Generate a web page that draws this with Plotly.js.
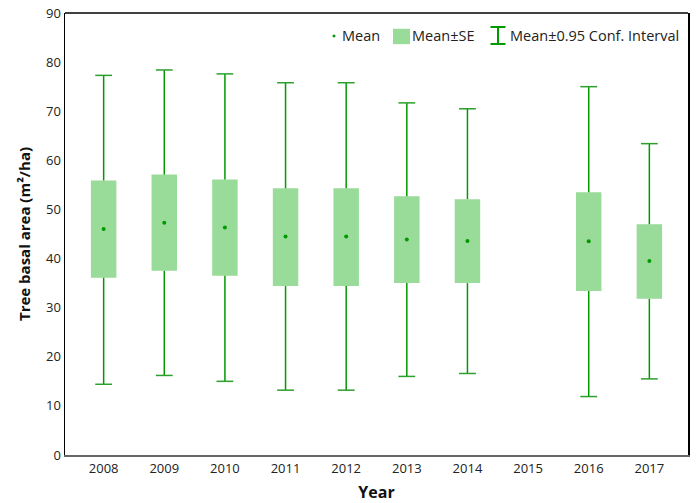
<!DOCTYPE html>
<html>
<head>
<meta charset="utf-8">
<script src="https://cdn.plot.ly/plotly-3.0.1.min.js"></script>
<style>html,body{margin:0;padding:0;background:#fff;}#chart{width:696px;height:503px;}</style>
</head>
<body>
<div id="chart"></div>
<script>
// Data
var years   = ['2008','2009','2010','2011','2012','2013','2014','2015','2016','2017'];
var means   = [46.0, 47.3, 46.3, 44.5, 44.5, 43.9, 43.6, null, 43.5, 39.5];
var seLow   = [36.1, 37.5, 36.5, 34.4, 34.4, 35.0, 35.0, null, 33.4, 31.8];
var seHigh  = [55.9, 57.1, 56.1, 54.3, 54.3, 52.7, 52.1, null, 53.5, 47.0];
var ciLow   = [14.4, 16.2, 15.0, 13.2, 13.2, 16.0, 16.6, null, 11.9, 15.5];
var ciHigh  = [77.3, 78.4, 77.6, 75.8, 75.8, 71.7, 70.5, null, 75.0, 63.4];
var legendLabels = ['Mean', 'Mean±SE', 'Mean±0.95 Conf. Interval'];

var boxColor = '#99db99';
var lineColor = '#009900';
var fontFam = '"Open Sans", Lato, sans-serif';

// box heights from SE bounds
var boxHeights = seHigh.map(function(h, i){ return (h === null || seLow[i] === null) ? null : h - seLow[i]; });

// whisker segments
var wx = [], wy = [];
var cx = [], cy = [];
years.forEach(function(yr, i){
  if (means[i] === null) return;
  wx.push(yr, yr, null, yr, yr, null);
  wy.push(ciHigh[i], seHigh[i], null, seLow[i], ciLow[i], null);
  cx.push(yr, yr);
  cy.push(ciHigh[i], ciLow[i]);
});

var traces = [
  {
    type: 'bar', x: years, y: boxHeights, base: seLow,
    width: 0.42, marker: {color: boxColor, line: {width: 0}},
    showlegend: false, hoverinfo: 'skip'
  },
  {
    type: 'scatter', mode: 'lines', x: wx, y: wy,
    line: {color: lineColor, width: 1.5}, connectgaps: false,
    showlegend: false, hoverinfo: 'skip'
  },
  {
    type: 'scatter', mode: 'markers', x: cx, y: cy,
    marker: {symbol: 'line-ew-open', size: 12, line: {color: lineColor, width: 1.5}},
    showlegend: false, hoverinfo: 'skip'
  },
  {
    type: 'scatter', mode: 'markers', x: years, y: means,
    marker: {symbol: 'circle', size: 4, color: lineColor},
    showlegend: false
  }
];

// custom legend (paper coords)
var L = 65, R = 688, T = 12.5, B = 455;
function px(x){ return (x - L) / (R - L); }
function py(y){ return (B - y) / (B - T); }

var shapes = [
  {type: 'line', xref: 'paper', yref: 'paper', x0: 0, x1: 1, y0: 1, y1: 1, line: {color: '#000', width: 1.5}},
  {type: 'circle', xref: 'paper', yref: 'paper', x0: px(332.5), x1: px(335.5), y0: py(37), y1: py(34), fillcolor: lineColor, line: {width: 0}},
  {type: 'rect', xref: 'paper', yref: 'paper', x0: px(393), x1: px(410), y0: py(43.7), y1: py(28.3), fillcolor: boxColor, line: {width: 0}},
  {type: 'line', xref: 'paper', yref: 'paper', x0: px(498), x1: px(498), y0: py(43.5), y1: py(26.5), line: {color: lineColor, width: 2}},
  {type: 'line', xref: 'paper', yref: 'paper', x0: px(490.5), x1: px(505.5), y0: py(26.5), y1: py(26.5), line: {color: lineColor, width: 2}},
  {type: 'line', xref: 'paper', yref: 'paper', x0: px(490.5), x1: px(505.5), y0: py(43.5), y1: py(43.5), line: {color: lineColor, width: 2}}
];

var annFont = {family: fontFam, size: 14.5, color: '#222'};
var annotations = [
  {xref: 'paper', yref: 'paper', x: px(340), y: py(35.5), xanchor: 'left', yanchor: 'middle', text: legendLabels[0], showarrow: false, font: annFont},
  {xref: 'paper', yref: 'paper', x: px(410), y: py(35.5), xanchor: 'left', yanchor: 'middle', text: legendLabels[1], showarrow: false, font: annFont},
  {xref: 'paper', yref: 'paper', x: px(508), y: py(35.5), xanchor: 'left', yanchor: 'middle', text: legendLabels[2], showarrow: false, font: annFont}
];

var layout = {
  width: 696, height: 503,
  margin: {l: 65, r: 8, t: 12.5, b: 48, pad: 0},
  paper_bgcolor: '#fff', plot_bgcolor: '#fff',
  showlegend: false,
  font: {family: fontFam, size: 13, color: '#222'},
  xaxis: {
    type: 'category', categoryorder: 'array', categoryarray: years,
    showline: true, linecolor: '#666', linewidth: 2,
    showgrid: false, zeroline: false, ticks: '',
    tickfont: {family: fontFam, size: 13, color: '#222'},
    title: {text: '<b>Year</b>', font: {family: fontFam, size: 16, color: '#111'}, standoff: 14}
  },
  yaxis: {
    range: [0, 90], dtick: 10, tick0: 0,
    showline: true, linecolor: '#000', linewidth: 1.5, mirror: true,
    showgrid: false, zeroline: false, ticks: '',
    tickfont: {family: fontFam, size: 13, color: '#222'},
    title: {text: '<b>Tree basal area (m²/ha)</b>', font: {family: fontFam, size: 15, color: '#111'}, standoff: 12}
  },
  shapes: shapes,
  annotations: annotations
};

Plotly.newPlot('chart', traces, layout, {displayModeBar: false, staticPlot: true});
</script>
</body>
</html>
